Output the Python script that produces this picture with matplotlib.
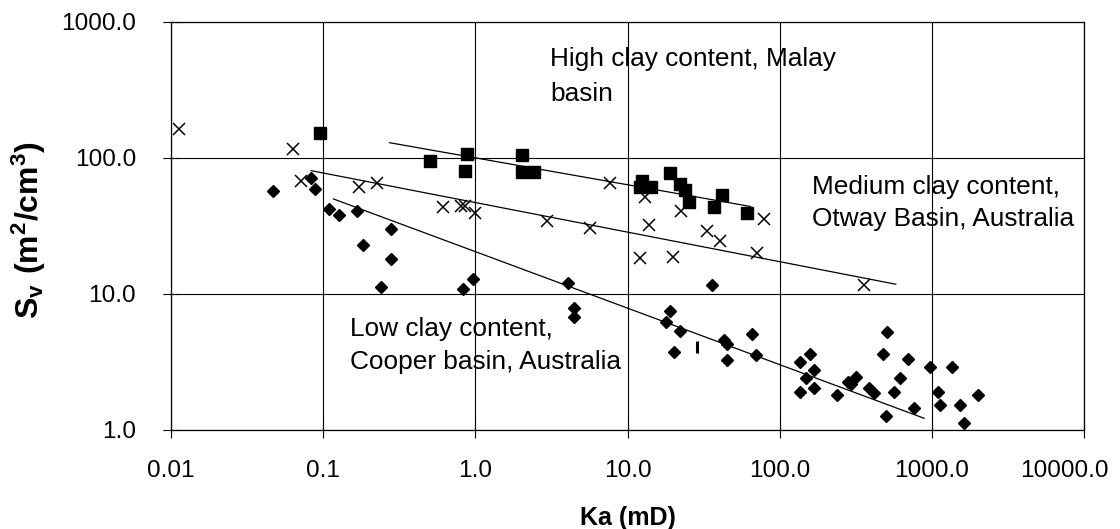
import matplotlib
matplotlib.use('Agg')
import matplotlib.pyplot as plt
from matplotlib.ticker import NullLocator
from matplotlib.transforms import ScaledTranslation

plt.rcParams['font.family'] = ['Liberation Sans', 'DejaVu Sans']
plt.rcParams['mathtext.fontset'] = 'custom'
plt.rcParams['mathtext.rm'] = 'Liberation Sans'
plt.rcParams['mathtext.bf'] = 'Liberation Sans:bold'

# High clay content, Malay basin (squares)
high_ka = [0.095, 0.50, 0.885, 0.859, 2.02, 2.02, 2.42, 12.4, 12.05, 14.2,
           19.0, 22.0, 23.9, 25.5, 41.5, 36.8, 61.3]
high_sv = [153.5, 95.5, 106.5, 80.7, 105.2, 78.5, 78.5, 67.7, 61.5, 61.5,
           78.2, 64.2, 58.2, 47.2, 53.5, 43.6, 39.6]

# Medium clay content, Otway Basin (crosses)
med_ka = [0.0113, 0.0638, 0.0716, 0.173, 0.227, 0.616, 0.809, 0.859, 1.0, 2.96,
          5.65, 7.65, 13.0, 13.95, 22.6, 33.4, 40.5, 78.8, 71.3, 12.0, 20.0, 358.5]
med_sv = [162.6, 116.5, 67.7, 61.5, 65.8, 43.4, 44.7, 44.0, 39.2, 34.6,
          30.4, 65.8, 51.4, 32.2, 40.8, 29.2, 24.5, 35.6, 19.9, 18.3, 18.8, 11.65]

# Low clay content, Cooper basin (diamonds)
low_ka = [0.0471, 0.0834, 0.0885, 0.110, 0.128, 0.1675, 0.280, 0.184, 0.280, 0.241,
          0.834, 0.966, 4.05, 35.7, 4.48, 4.48, 18.9, 17.8, 22.0, 20.2,
          43.0, 45.3, 45.3, 65.4, 70.3, 135.4, 157.5, 168.2, 148.3, 135.4,
          168.2, 239.7, 281.3, 316.2, 293.1, 386.7, 417.0, 498, 511, 481,
          692, 615, 565, 765, 970, 1354, 1090, 1129, 1535, 1632, 1998]
low_sv = [57.5, 70.9, 59.2, 42.4, 38.1, 41.0, 30.2, 22.9, 18.2, 11.3,
          10.9, 12.9, 12.05, 11.74, 7.85, 6.81, 7.54, 6.26, 5.37, 3.73,
          4.59, 4.27, 3.27, 5.05, 3.56, 3.15, 3.62, 2.76, 2.40, 1.89,
          2.03, 1.81, 2.265, 2.466, 2.18, 2.03, 1.88, 1.27, 5.23, 3.60,
          3.31, 2.40, 1.89, 1.46, 2.89, 2.89, 1.89, 1.53, 1.53, 1.13, 1.81]

# stray bar mark
stray_ka = [28.7]
stray_sv = [4.10]

# trend lines (end points)
high_fit_ka = [0.273, 64.4]
high_fit_sv = [129.6, 44.0]
med_fit_ka = [0.0834, 579.6]
med_fit_sv = [80.7, 11.8]
low_fit_ka = [0.117, 889.5]
low_fit_sv = [49.95, 1.22]

xticks = [0.01, 0.1, 1, 10, 100, 1000, 10000]
xtick_labels = ['0.01', '0.1', '1.0', '10.0', '100.0', '1000.0', '10000.0']
yticks = [1, 10, 100, 1000]
ytick_labels = ['1.0', '10.0', '100.0', '1000.0']

fig = plt.figure(figsize=(11.2, 5.29), dpi=100)
ax = fig.add_axes([171 / 1120, 99 / 529, 913 / 1120, 408 / 529])
ax.set_xscale('log')
ax.set_yscale('log')
ax.set_xlim(0.01, 10000)
ax.set_ylim(1, 1000)
ax.set_xticks(xticks)
ax.set_xticklabels(xtick_labels)
ax.set_yticks(yticks)
ax.set_yticklabels(ytick_labels)
ax.xaxis.set_minor_locator(NullLocator())
ax.yaxis.set_minor_locator(NullLocator())
ax.grid(True, which='major', color='black', lw=0.8)
ax.set_axisbelow(True)
for s in ax.spines.values():
    s.set_linewidth(0.9)
ax.tick_params(direction='inout', length=11.5, width=0.8, labelsize=17.6)
ax.tick_params(axis='y', pad=19.4)
ax.tick_params(axis='x', pad=15.8)

# last x label pulled inside the figure, as in the original
last = ax.get_xticklabels()[-1]
last.set_transform(last.get_transform() + ScaledTranslation(-0.2, 0, fig.dpi_scale_trans))

# trend lines
ax.plot(high_fit_ka, high_fit_sv, color='black', lw=0.9)
ax.plot(med_fit_ka, med_fit_sv, color='black', lw=0.9)
ax.plot(low_fit_ka, low_fit_sv, color='black', lw=0.9)

# data
ax.plot(high_ka, high_sv, ls='none', marker='s', ms=8.5, color='black', mew=1)
ax.plot(med_ka, med_sv, ls='none', marker='x', ms=9.3, color='black', mew=1.1)
ax.plot(low_ka, low_sv, ls='none', marker='D', ms=6.2, color='black', mew=1)
ax.plot(stray_ka, stray_sv, ls='none', marker='|', ms=9, color='black', mew=2.2)

ax.text(0.4151, 0.8664, 'High clay content, Malay\nbasin', transform=ax.transAxes,
        fontsize=18.9, va='center', ha='left', linespacing=1.55)
ax.text(0.7017, 0.5564, 'Medium clay content,\nOtway Basin, Australia', transform=ax.transAxes,
        fontsize=18.9, va='center', ha='left', linespacing=1.45)
ax.text(0.1961, 0.2071, 'Low clay content,\nCooper basin, Australia', transform=ax.transAxes,
        fontsize=18.9, va='center', ha='left', linespacing=1.5)

ax.set_xlabel('Ka (mD)', fontsize=18, fontweight='bold', labelpad=17)
ax.set_ylabel(r'$\mathbf{S_v\ (m^2/cm^3)}$', fontsize=23, va='center')
ax.yaxis.set_label_coords((29 - 171) / 913, 0.49)

fig.savefig('out.png', dpi=100)
